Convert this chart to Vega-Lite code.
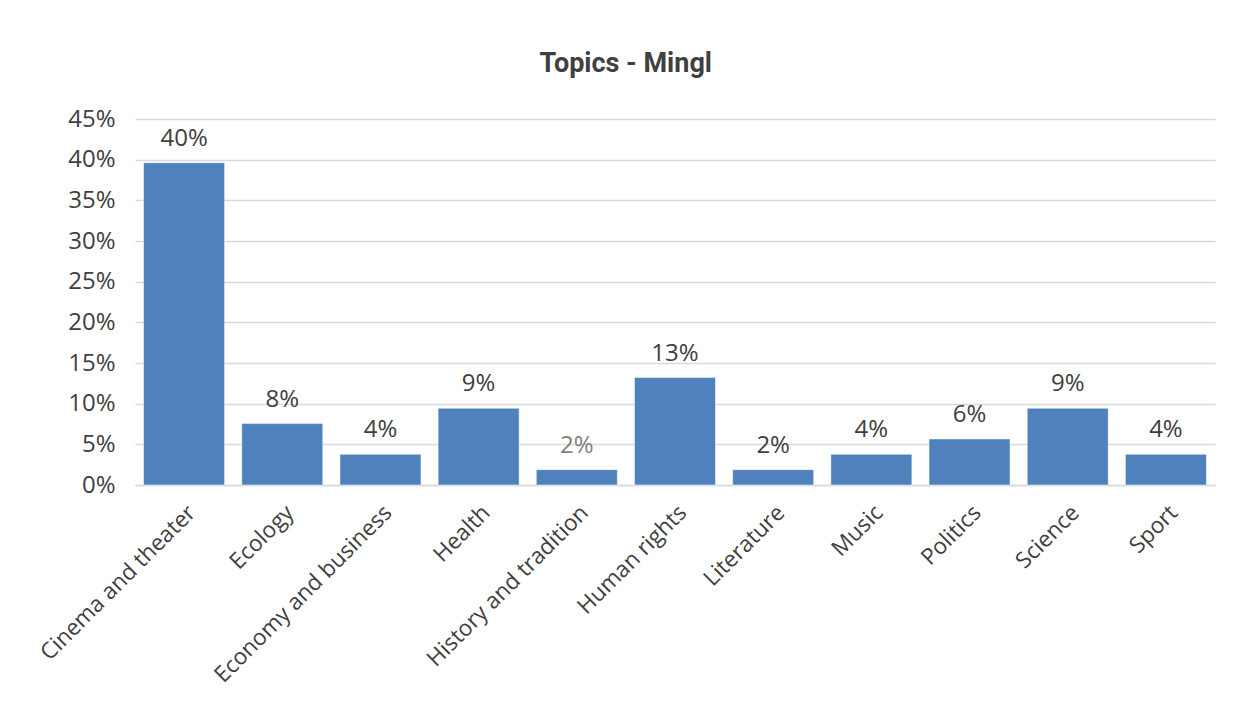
{
  "$schema": "https://vega.github.io/schema/vega-lite/v6.json",
  "autosize": {"type": "none"},
  "width": 1080,
  "height": 366,
  "padding": {"left": 135, "top": 119, "right": 20, "bottom": 223},
  "background": "white",
  "title": {
    "text": "Topics - Mingl",
    "font": "Roboto",
    "fontSize": 27,
    "fontWeight": "bold",
    "color": "#404040",
    "anchor": "middle",
    "frame": "bounds",
    "offset": 29
  },
  "data": {
    "values": [
      {"topic": "Cinema and theater", "share": 0.3962},
      {"topic": "Ecology", "share": 0.07547},
      {"topic": "Economy and business", "share": 0.03774},
      {"topic": "Health", "share": 0.09434},
      {"topic": "History and tradition", "share": 0.01887},
      {"topic": "Human rights", "share": 0.13208},
      {"topic": "Literature", "share": 0.01887},
      {"topic": "Music", "share": 0.03774},
      {"topic": "Politics", "share": 0.0566},
      {"topic": "Science", "share": 0.09434},
      {"topic": "Sport", "share": 0.03774}
    ]
  },
  "encoding": {
    "x": {
      "field": "topic",
      "type": "nominal",
      "sort": null,
      "scale": {"paddingInner": 0.175, "paddingOuter": 0.0875},
      "axis": {
        "title": null,
        "labelAngle": -45,
        "labelFont": "Open Sans",
        "labelFontSize": 22.5,
        "labelColor": "#404040",
        "labelPadding": 16,
        "labelLimit": 400,
        "ticks": false,
        "domainColor": "#d9d9d9",
        "domainWidth": 1.5,
        "grid": false
      }
    },
    "y": {
      "field": "share",
      "type": "quantitative",
      "scale": {"domain": [0, 0.45], "nice": false},
      "axis": {
        "title": null,
        "values": [0, 0.05, 0.1, 0.15, 0.2, 0.25, 0.3, 0.35, 0.4, 0.45],
        "format": ".0%",
        "labelFont": "Open Sans",
        "labelFontSize": 24,
        "labelColor": "#404040",
        "labelPadding": 20,
        "ticks": false,
        "domain": false,
        "grid": true,
        "gridColor": "#d9d9d9",
        "gridWidth": 1.5
      }
    }
  },
  "layer": [
    {
      "mark": {"type": "bar", "color": "#4f81bd", "stroke": "#ffffff", "strokeWidth": 0.5}
    },
    {
      "mark": {"type": "text", "font": "Open Sans", "fontSize": 24, "baseline": "alphabetic", "dy": -17},
      "encoding": {
        "text": {"field": "share", "type": "quantitative", "format": ".0%"},
        "color": {
          "condition": {"test": "datum.topic === 'History and tradition'", "value": "#7f7f7f"},
          "value": "#404040"
        }
      }
    }
  ],
  "config": {"view": {"stroke": null}}
}
